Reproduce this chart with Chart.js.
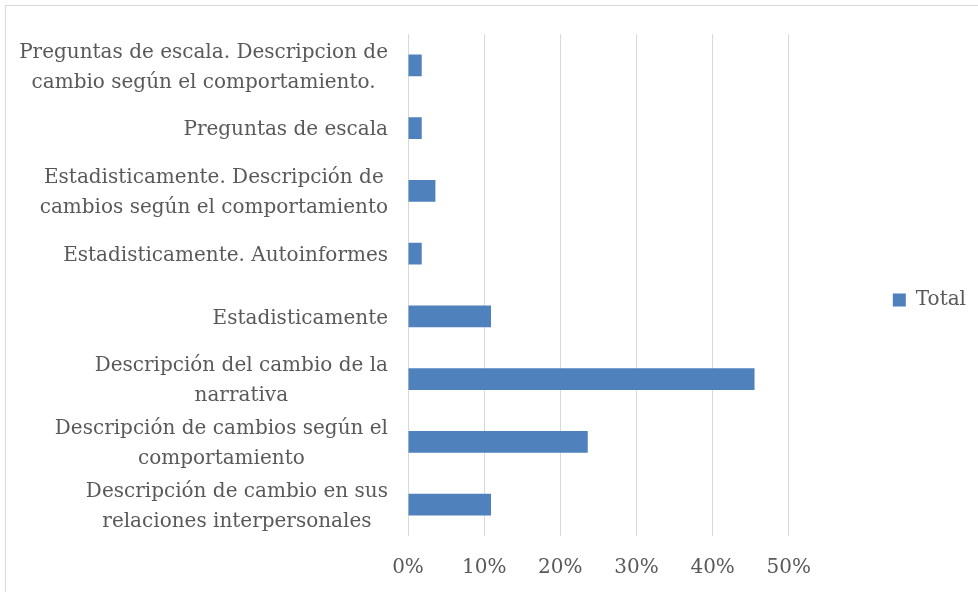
<!DOCTYPE html>
<html>
<head>
<meta charset="utf-8">
<script src="https://cdn.jsdelivr.net/npm/chart.js@4"></script>
<style>
    html, body { margin: 0; padding: 0; background: #fff; }
    #wrap { position: relative; width: 978px; height: 592px; }
</style>
</head>
<body>
<div id="wrap"><canvas id="respuestasChart"></canvas></div>
<script>
// Categorias (de arriba hacia abajo, como en el original)
const categories = [
    ['Preguntas de escala. Descripcion de', 'cambio según el comportamiento.'],
    ['Preguntas de escala'],
    ['Estadisticamente. Descripción de', 'cambios según el comportamiento'],
    ['Estadisticamente. Autoinformes'],
    ['Estadisticamente'],
    ['Descripción del cambio de la', 'narrativa'],
    ['Descripción de cambios según el', 'comportamiento'],
    ['Descripción de cambio en sus', 'relaciones interpersonales']
];
const totalValues = [0.018, 0.018, 0.036, 0.018, 0.109, 0.455, 0.236, 0.109];
const tickLabels = ['0%', '10%', '20%', '30%', '40%', '50%'];
const seriesName = 'Total';

const FONT = '"DejaVu Serif", serif';
const TEXT_COLOR = '#595959';

// Marco y etiquetas de categoria (centradas por bloque, alineadas a la derecha)
const excelLook = {
    id: 'excelLook',
    beforeDraw(chart) {
        const ctx = chart.ctx;
        ctx.save();
        ctx.strokeStyle = '#d9d9d9';
        ctx.lineWidth = 1;
        ctx.strokeRect(5.5, 5.5, 1000, 1000);
        ctx.restore();
        // leyenda centrada como en Excel
        chart.legend.bottom = chart.chartArea.bottom + 30;
    },
    afterDraw(chart) {
        const ctx = chart.ctx;
        const yScale = chart.scales.y;
        const right = chart.chartArea.left - 20;
        const lineH = 30;
        ctx.save();
        ctx.font = '20px ' + FONT;
        ctx.fillStyle = TEXT_COLOR;
        ctx.textAlign = 'center';
        ctx.textBaseline = 'middle';
        categories.forEach((lines, i) => {
            const blockW = Math.max(...lines.map(l => ctx.measureText(l).width));
            const cx = right - blockW / 2;
            const cy = yScale.getPixelForTick(i) + 2;
            const y0 = cy - (lines.length - 1) * lineH / 2;
            lines.forEach((l, k) => ctx.fillText(l, cx, y0 + k * lineH));
        });
        ctx.restore();
    }
};

new Chart(document.getElementById('respuestasChart'), {
    type: 'bar',
    data: {
        labels: categories,
        datasets: [{
            label: seriesName,
            data: totalValues,
            backgroundColor: '#4F81BD',
            barPercentage: 0.35,
            categoryPercentage: 1
        }]
    },
    options: {
        indexAxis: 'y',
        responsive: true,
        maintainAspectRatio: false,
        animation: false,
        layout: {
            padding: { top: 34, left: 0, right: 2, bottom: 12 }
        },
        scales: {
            x: {
                min: 0,
                max: 0.5,
                grid: { color: '#d9d9d9', drawTicks: false },
                border: { display: false },
                ticks: {
                    stepSize: 0.1,
                    padding: 20,
                    color: TEXT_COLOR,
                    font: { family: FONT, size: 20 },
                    callback: (v, i) => tickLabels[i] ?? ''
                },
                afterFit: (scale) => { scale.height = 44; }
            },
            y: {
                grid: { display: false, drawTicks: false },
                border: { display: false },
                ticks: { display: false },
                afterFit: (scale) => { scale.width = 408; }
            }
        },
        plugins: {
            legend: {
                position: 'right',
                labels: {
                    boxWidth: 13,
                    boxHeight: 13,
                    padding: 104,
                    color: TEXT_COLOR,
                    font: { family: FONT, size: 20 }
                }
            },
            tooltip: { enabled: false }
        }
    },
    plugins: [excelLook]
});
</script>
</body>
</html>
